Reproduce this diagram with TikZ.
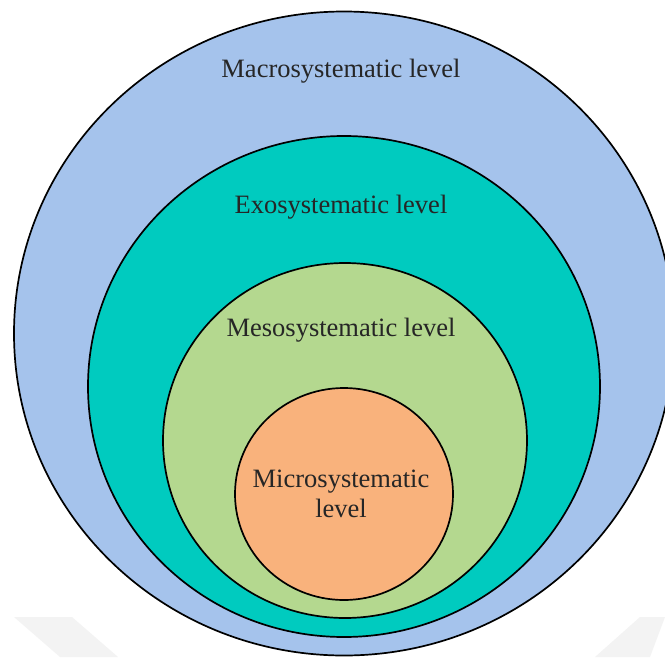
\documentclass[tikz,border=0pt]{standalone}
\usepackage{fontspec}
\setmainfont{Liberation Serif}
\definecolor{macrofill}{HTML}{A5C3EC}
\definecolor{exofill}{HTML}{00CBBF}
\definecolor{mesofill}{HTML}{B4D88F}
\definecolor{microfill}{HTML}{F9B27C}
\definecolor{markgray}{HTML}{F3F3F3}
\tikzset{
  ring/.style={draw=black, line width=1.7pt},
  leveltext/.style={font=\fontsize{26.5}{30}\selectfont, text=black!85, inner sep=0pt, anchor=base, align=center},
}
\begin{document}
\begin{tikzpicture}[x=1pt,y=-1pt]
  \useasboundingbox (0,0) rectangle (665,657);
  \clip (0,0) rectangle (665,657);
  \fill[white] (0,0) rectangle (665,657);
  % faint background mark
  \fill[markgray] (14,617) -- (72,617) -- (118,657) -- (60,657) -- cycle;
  \fill[markgray] (665,617) -- (640,617) -- (595,657) -- (650,657) -- cycle;
  % nested levels
  \draw[ring, fill=macrofill] (344,333.5) ellipse [x radius=330, y radius=322];
  \draw[ring, fill=exofill]   (344,386.5) ellipse [x radius=256, y radius=250.5];
  \draw[ring, fill=mesofill]  (345,440.5) ellipse [x radius=182, y radius=177.5];
  \draw[ring, fill=microfill] (344,494)   ellipse [x radius=109, y radius=106];
  % labels
  \node[leveltext] (macro) at (341,77)  {Macrosystematic level};
  \node[leveltext] (exo)   at (341,213) {Exosystematic level};
  \node[leveltext] (meso)  at (341,336) {Mesosystematic level};
  \node[leveltext] (micro) at (341,487) {Microsystematic};
  \node[leveltext] (microlevel) at (341,517) {level};
\end{tikzpicture}
\end{document}
